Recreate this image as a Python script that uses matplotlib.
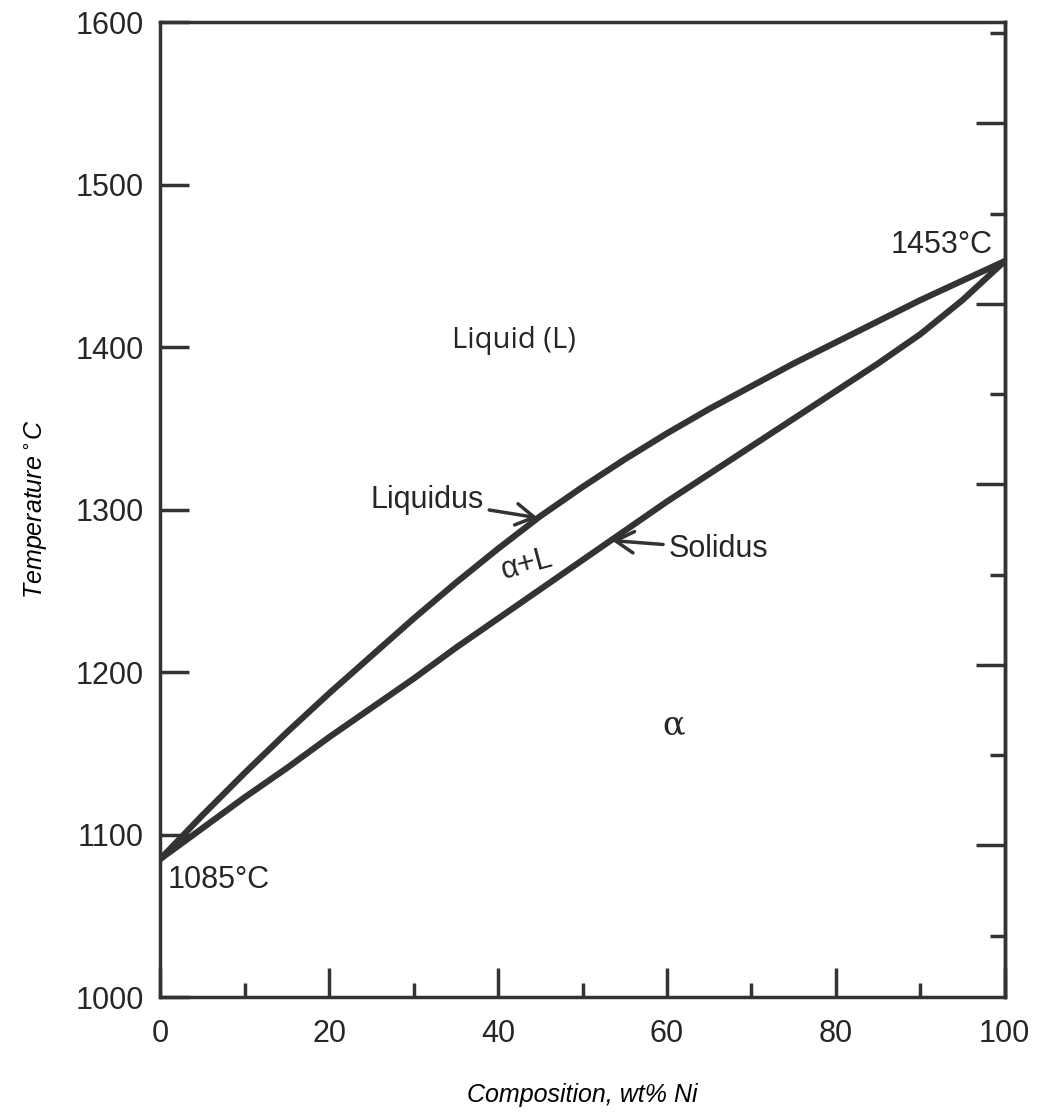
import numpy as np
import matplotlib
matplotlib.use("Agg")
import matplotlib.pyplot as plt

# Cu-Ni phase diagram
ni_wt = [0, 5, 10, 15, 20, 25, 30, 35, 40, 45, 50, 55, 60, 65, 70, 75, 80, 85, 90, 95, 100]
liquidus = [1085, 1112, 1138, 1163, 1187, 1210, 1233, 1255, 1276, 1296, 1314,
            1331, 1347, 1362, 1376, 1390, 1403, 1416, 1429, 1441, 1453]
solidus = [1085, 1104, 1123, 1141, 1160, 1178, 1196, 1215, 1233, 1251, 1269,
           1287, 1305, 1322, 1339, 1356, 1373, 1390, 1408, 1429, 1453]

x_major = [0, 20, 40, 60, 80, 100]
x_minor = [10, 30, 50, 70, 90]
y_major = [1000, 1100, 1200, 1300, 1400, 1500, 1600]
f_major = [2000, 2200, 2400, 2600, 2800]
f_minor = [1900, 2100, 2300, 2500, 2700, 2900]

ink = "#333333"
txt = "#262626"
plt.rcParams["font.family"] = ["Liberation Sans", "DejaVu Sans"]
plt.rcParams["text.color"] = txt

fig = plt.figure(figsize=(10.62, 11.19), dpi=100)
ax = fig.add_axes([0.151, 0.109, 0.795, 0.871])

ax.plot(ni_wt, liquidus, color=ink, lw=4.5, solid_capstyle="round", solid_joinstyle="round")
ax.plot(ni_wt, solidus, color=ink, lw=4.5, solid_capstyle="round", solid_joinstyle="round")

ax.set_xlim(0, 100)
ax.set_ylim(1000, 1600)
ax.set_xticks(x_major)
ax.set_xticks(x_minor, minor=True)
ax.set_yticks(y_major)
ax.tick_params(axis="both", which="major", direction="in", length=21, width=2.5,
               colors=ink, labelcolor=txt, labelsize=22)
ax.tick_params(axis="x", which="major", pad=16)
ax.tick_params(axis="y", which="major", pad=12)
ax.tick_params(axis="x", which="minor", direction="in", length=10, width=2.5, color=ink)
ax.tick_params(axis="y", which="minor", left=False)
for sp in ax.spines.values():
    sp.set_linewidth(2.5)
    sp.set_color(ink)

# Fahrenheit scale on the right (unlabelled ticks)
sec = ax.secondary_yaxis("right", functions=(lambda c: c * 9 / 5 + 32,
                                             lambda f: (f - 32) * 5 / 9))
sec.set_yticks(f_major)
sec.set_yticks(f_minor, minor=True)
sec.tick_params(which="major", direction="in", length=21, width=2.5, color=ink, labelright=False)
sec.tick_params(which="minor", direction="in", length=11, width=2.5, color=ink)
sec.spines["right"].set_linewidth(2.5)
sec.spines["right"].set_color(ink)

ax.set_xlabel("Composition, wt% Ni", fontsize=18, style="italic", labelpad=24)
ax.set_ylabel("Temperature$\\,^{\\circ}$C", fontsize=18, style="italic", labelpad=18)

# labels
ax.text(41.9, 1404, "Liquid (L)", fontsize=21, ha="center", va="center", family="Open Sans")
ax.text(60.8, 1167, "α", fontsize=24, ha="center", va="center", family="DejaVu Serif")
ax.text(43.4, 1266, "α+L", fontsize=22, ha="center", va="center", rotation=15)
ax.text(98.6, 1463, "1453°C", fontsize=22, ha="right", va="center")
ax.text(0.9, 1072, "1085°C", fontsize=22, ha="left", va="center")

arrow = dict(arrowstyle="->,head_length=0.6,head_width=0.35", color=ink, lw=2.5,
             shrinkA=2, shrinkB=0)
ax.annotate("Liquidus", xy=(44.7, 1295), xytext=(38.3, 1306), fontsize=22,
            ha="right", va="center", arrowprops=arrow)
ax.annotate("Solidus", xy=(53.5, 1281), xytext=(60.2, 1276), fontsize=22,
            ha="left", va="center", arrowprops=arrow)

fig.savefig("out.png", dpi=100)
